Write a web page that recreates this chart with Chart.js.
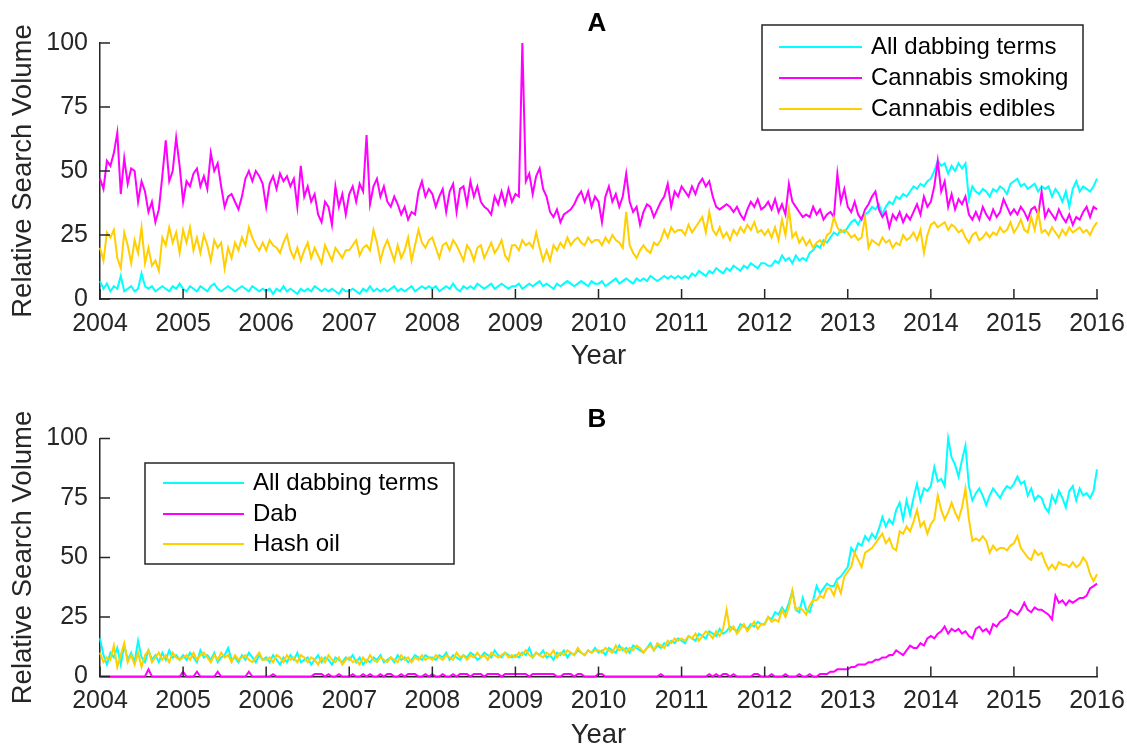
<!DOCTYPE html>
<html>
<head>
<meta charset="utf-8">
<script src="https://cdn.jsdelivr.net/npm/chart.js@4.4.1/dist/chart.umd.min.js"></script>
<style>
  html, body { margin: 0; padding: 0; background: #fff; }
  #wrap { position: relative; width: 1127px; height: 747px; overflow: hidden; }
  .panel { position: absolute; left: 0; width: 1127px; }
</style>
</head>
<body>
<div id="wrap">
  <div class="panel" style="top:0;height:374px"><canvas id="chartA" width="1127" height="374"></canvas></div>
  <div class="panel" style="top:374px;height:373px"><canvas id="chartB" width="1127" height="373"></canvas></div>
</div>
<script>
// half-monthly samples, 2004 to 2016 (24 per year + final point)
const startYear = 2004;
const perYear = 24;
const yearTicks = [2004, 2005, 2006, 2007, 2008, 2009, 2010, 2011, 2012, 2013, 2014, 2015, 2016];
const valueTicks = [0, 25, 50, 75, 100];

// Panel A
const dabbingA = [
    7, 4, 6, 3, 5, 4, 9, 3, 4, 5, 3, 4, 10, 5, 4, 5, 3, 4, 5, 4, 3, 5, 4, 6,
    4, 3, 5, 4, 3, 5, 4, 3, 5, 6, 4, 3, 4, 5, 4, 3, 4, 5, 4, 3, 5, 4, 3, 4,
    3, 4, 2, 4, 3, 5, 3, 4, 3, 2, 4, 3, 4, 3, 5, 4, 3, 4, 3, 4, 3, 2, 4, 3,
    3, 4, 3, 2, 4, 3, 5, 3, 4, 3, 4, 3, 4, 5, 3, 4, 3, 4, 5, 3, 4, 5, 4, 5,
    4, 5, 3, 4, 5, 4, 6, 4, 3, 5, 4, 5, 4, 6, 5, 4, 5, 6, 4, 5, 6, 5, 4, 5,
    5, 6, 4, 5, 6, 5, 6, 7, 5, 6, 5, 4, 6, 5, 6, 7, 6, 5, 6, 7, 6, 5, 7, 6,
    6, 7, 5, 6, 7, 8, 6, 7, 8, 7, 6, 8, 7, 8, 7, 9, 8, 7, 8, 9, 8, 9, 8, 9,
    8, 9, 8, 10, 9, 11, 10, 9, 11, 10, 12, 11, 10, 12, 11, 13, 12, 11, 13, 12, 14, 13, 12, 14,
    14, 13, 13, 15, 14, 17, 15, 16, 14, 17, 15, 16, 15, 18, 19, 21, 20, 23, 22, 24, 26, 25, 27, 26,
    28, 30, 31, 29, 32, 33, 34, 36, 35, 37, 33, 36, 38, 37, 40, 39, 41, 40, 42, 44, 43, 45, 44, 46,
    47, 50, 54, 52, 53, 49, 52, 50, 53, 51, 53, 39, 44, 42, 41, 43, 42, 40, 43, 42, 44, 43, 41, 45,
    46, 47, 44, 45, 43, 44, 45, 42, 44, 43, 44, 40, 43, 41, 38, 42, 36, 43, 46, 42, 44, 43, 42, 44,
    47
];
const smokingA = [
    47, 43, 54, 52, 57, 65, 41, 55, 45, 51, 50, 38, 46, 42, 34, 38, 30, 35, 48, 62, 46, 50, 63, 52,
    38, 46, 44, 49, 51, 44, 48, 43, 57, 50, 53, 44, 36, 40, 41, 38, 35, 40, 47, 50, 46, 50, 48, 45,
    36, 45, 48, 43, 49, 46, 48, 44, 47, 36, 52, 40, 44, 38, 41, 33, 30, 38, 36, 29, 44, 36, 41, 33,
    41, 44, 38, 45, 42, 64, 37, 44, 47, 40, 44, 38, 36, 40, 37, 33, 36, 31, 34, 33, 42, 46, 40, 43,
    41, 36, 40, 43, 34, 42, 45, 34, 43, 44, 37, 46, 40, 44, 38, 36, 35, 33, 40, 37, 42, 37, 43, 38,
    41, 40, 100, 46, 49, 41, 48, 51, 43, 40, 34, 32, 35, 30, 33, 34, 35, 37, 40, 42, 38, 42, 36, 40,
    38, 30, 40, 44, 38, 41, 36, 40, 49, 38, 34, 36, 29, 34, 37, 36, 32, 35, 38, 40, 45, 36, 42, 40,
    44, 42, 40, 44, 41, 45, 47, 44, 46, 40, 36, 35, 36, 37, 36, 34, 36, 33, 31, 35, 38, 36, 39, 35,
    36, 38, 35, 39, 34, 37, 33, 45, 38, 36, 34, 32, 33, 32, 36, 33, 35, 31, 33, 34, 32, 49, 38, 43,
    36, 34, 38, 33, 31, 35, 37, 40, 42, 35, 32, 34, 28, 33, 31, 34, 30, 33, 31, 34, 37, 33, 40, 36,
    38, 44, 54, 42, 46, 36, 41, 35, 39, 37, 40, 33, 31, 34, 31, 36, 33, 31, 35, 32, 34, 39, 36, 33,
    35, 33, 36, 34, 31, 35, 36, 33, 42, 32, 35, 33, 31, 35, 32, 30, 33, 29, 32, 31, 34, 36, 32, 36,
    35
];
const ediblesA = [
    20, 15, 26, 24, 27, 16, 12, 26, 21, 14, 23, 18, 28, 14, 20, 13, 15, 11, 24, 21, 28, 22, 26, 18,
    27, 22, 28, 19, 24, 18, 25, 21, 15, 23, 20, 22, 12, 20, 16, 22, 19, 24, 21, 28, 24, 21, 19, 22,
    19, 23, 21, 20, 18, 22, 25, 19, 16, 20, 15, 19, 22, 16, 20, 17, 14, 21, 18, 15, 20, 18, 16, 19,
    19, 21, 23, 17, 20, 21, 19, 27, 22, 15, 20, 23, 19, 15, 21, 16, 19, 24, 15, 21, 27, 22, 20, 23,
    24, 20, 16, 21, 22, 19, 23, 21, 18, 15, 21, 19, 15, 20, 21, 16, 19, 22, 18, 20, 23, 17, 15, 21,
    21, 19, 23, 21, 22, 20, 26, 20, 15, 19, 15, 21, 19, 22, 20, 24, 21, 23, 24, 22, 21, 24, 22, 23,
    23, 21, 24, 22, 25, 23, 22, 20, 34, 21, 18, 16, 19, 21, 19, 18, 22, 21, 23, 27, 24, 28, 26, 27,
    27, 25, 29, 26, 28, 30, 32, 26, 34, 27, 25, 28, 24, 26, 23, 27, 25, 28, 26, 29, 27, 30, 26, 27,
    25, 27, 24, 28, 23, 31, 25, 35, 24, 26, 22, 24, 21, 23, 20, 22, 23, 21, 25, 26, 32, 28, 26, 27,
    26, 24, 25, 23, 24, 32, 20, 23, 22, 21, 24, 22, 23, 20, 22, 21, 25, 23, 24, 26, 23, 27, 18, 25,
    29, 30, 28, 29, 30, 27, 29, 28, 26, 27, 24, 22, 25, 26, 23, 24, 26, 24, 26, 25, 28, 26, 27, 30,
    26, 28, 31, 27, 26, 32, 27, 34, 26, 27, 25, 28, 26, 24, 27, 25, 28, 26, 27, 28, 26, 27, 25, 28,
    30
];

// Panel B
const dabbingB = [
    16, 9, 5, 10, 8, 12, 5, 13, 7, 10, 6, 15, 8, 6, 11, 7, 9, 6, 10, 7, 11, 8, 9, 7,
    9, 7, 10, 8, 6, 11, 8, 9, 7, 10, 6, 8, 9, 12, 7, 8, 6, 9, 7, 10, 8, 6, 9, 7,
    8, 6, 9, 7, 5, 8, 6, 9, 7, 10, 6, 7, 8, 5, 7, 9, 6, 8, 7, 5, 8, 7, 6, 8,
    7, 9, 6, 8, 5, 7, 6, 8, 7, 9, 6, 7, 8, 6, 9, 7, 8, 6, 7, 9, 8, 7, 9, 8,
    8, 7, 9, 8, 10, 7, 9, 8, 7, 9, 8, 10, 9, 7, 8, 10, 9, 8, 11, 9, 8, 10, 9, 8,
    9, 8, 10, 9, 12, 8, 10, 9, 11, 8, 9, 7, 10, 9, 11, 8, 10, 9, 11, 10, 9, 11, 10, 12,
    10, 11, 9, 12, 11, 10, 13, 11, 12, 10, 13, 12, 11, 10, 12, 14, 11, 13, 12, 14, 13, 15, 14, 16,
    15, 14, 17, 16, 15, 18, 17, 16, 19, 18, 17, 20, 18, 19, 21, 20, 19, 22, 21, 20, 22, 21, 23, 22,
    22, 25, 24, 27, 26, 29, 27, 31, 36, 28, 27, 33, 28, 27, 32, 38, 35, 37, 39, 38, 38, 41, 42, 44,
    46, 54, 52, 56, 55, 59, 57, 60, 58, 62, 67, 63, 66, 64, 70, 73, 66, 74, 68, 75, 81, 74, 79, 78,
    80, 88, 82, 83, 80, 100, 92, 89, 84, 91, 97, 80, 74, 77, 79, 76, 72, 76, 79, 77, 75, 78, 80, 79,
    81, 84, 81, 82, 76, 79, 74, 76, 75, 71, 69, 76, 73, 78, 75, 71, 78, 80, 74, 79, 76, 77, 75, 78,
    87
];
const dabB = [
    0, 0, 0, 0, 0, 0, 0, 0, 0, 0, 0, 0, 0, 0, 3, 0, 0, 0, 0, 0, 0, 0, 0, 0,
    2, 0, 0, 0, 2, 0, 0, 0, 0, 0, 2, 0, 0, 0, 0, 0, 0, 0, 0, 2, 0, 0, 0, 0,
    0, 0, 1, 0, 0, 0, 0, 0, 0, 0, 0, 0, 0, 0, 1, 1, 1, 0, 1, 0, 0, 1, 0, 0,
    0, 1, 0, 0, 1, 0, 1, 0, 0, 1, 0, 1, 1, 0, 0, 1, 0, 1, 1, 1, 0, 0, 1, 0,
    1, 0, 0, 1, 0, 0, 1, 0, 1, 1, 1, 0, 1, 1, 1, 0, 1, 1, 1, 1, 0, 1, 1, 1,
    1, 1, 1, 1, 0, 1, 1, 1, 1, 1, 1, 1, 0, 0, 1, 1, 1, 0, 1, 1, 0, 0, 0, 0,
    1, 1, 0, 0, 0, 0, 0, 0, 0, 0, 0, 0, 0, 0, 0, 0, 0, 0, 1, 0, 0, 0, 0, 0,
    0, 0, 0, 0, 0, 0, 0, 0, 1, 0, 1, 0, 1, 1, 0, 1, 0, 0, 0, 0, 0, 1, 1, 0,
    0, 0, 1, 0, 0, 0, 1, 0, 0, 0, 1, 0, 0, 1, 0, 0, 1, 1, 1, 2, 2, 3, 3, 3,
    3, 4, 4, 5, 5, 5, 6, 6, 7, 7, 8, 8, 9, 9, 11, 10, 9, 11, 13, 12, 12, 14, 13, 16,
    17, 16, 18, 19, 21, 18, 20, 19, 20, 18, 19, 17, 16, 20, 21, 19, 20, 18, 22, 21, 23, 24, 25, 28,
    27, 26, 28, 31, 28, 27, 29, 28, 28, 27, 26, 24, 34, 31, 32, 30, 32, 31, 32, 33, 33, 34, 37, 38,
    39
];
const hashOilB = [
    10, 6, 8, 7, 13, 4, 9, 14, 6, 9, 5, 10, 4, 9, 11, 6, 8, 10, 7, 9, 6, 10, 8, 7,
    8, 9, 7, 10, 7, 9, 10, 8, 6, 9, 7, 10, 8, 9, 6, 9, 7, 8, 9, 7, 6, 8, 10, 7,
    7, 8, 6, 9, 8, 6, 9, 7, 8, 6, 9, 8, 6, 8, 7, 5, 8, 6, 9, 7, 6, 8, 5, 7,
    8, 6, 7, 5, 8, 6, 9, 7, 6, 8, 7, 6, 8, 7, 6, 9, 7, 8, 6, 8, 7, 9, 7, 8,
    7, 9, 8, 7, 9, 8, 7, 10, 8, 9, 7, 9, 8, 10, 8, 9, 7, 10, 9, 8, 9, 10, 8, 9,
    8, 10, 9, 11, 9, 8, 10, 9, 8, 10, 9, 11, 8, 10, 9, 11, 10, 9, 12, 10, 9, 11, 10, 11,
    11, 10, 12, 11, 10, 13, 11, 12, 10, 12, 11, 13, 12, 10, 12, 13, 11, 14, 13, 12, 15, 14, 16, 15,
    16, 15, 17, 16, 18, 15, 17, 19, 18, 16, 19, 17, 20, 28, 19, 21, 18, 20, 22, 19, 21, 23, 20, 22,
    22, 25, 23, 24, 23, 28, 25, 29, 36, 28, 29, 28, 26, 30, 32, 32, 34, 33, 37, 37, 34, 39, 35, 42,
    44, 46, 52, 49, 46, 52, 53, 54, 56, 58, 60, 56, 58, 54, 53, 61, 60, 63, 61, 65, 70, 63, 65, 60,
    64, 66, 76, 70, 66, 69, 73, 69, 66, 71, 79, 66, 57, 58, 57, 59, 57, 52, 55, 53, 54, 54, 53, 55,
    56, 59, 54, 52, 50, 49, 53, 51, 52, 48, 45, 47, 45, 48, 47, 47, 46, 48, 46, 47, 50, 48, 43, 40,
    43
];

const CYAN = '#00FFFF';
const MAGENTA = '#FF00FF';
const YELLOW = '#FFCF00';
const AXIS = '#262626';
const FONT = "'Liberation Sans', Arial, Helvetica, sans-serif";

const times = [];
for (let i = 0; i < dabbingA.length; i++) {
    times.push(startYear + i / perYear);
}

const decor = {
    id: 'decor',
    afterDraw(chart, args, opts) {
        const { ctx, chartArea: a, scales: { x, y } } = chart;
        ctx.save();

        // MATLAB-style inward ticks
        ctx.strokeStyle = AXIS;
        ctx.lineWidth = 1.5;
        ctx.beginPath();
        valueTicks.forEach(v => {
            const py = y.getPixelForValue(v);
            ctx.moveTo(a.left, py);
            ctx.lineTo(a.left + 10, py);
        });
        yearTicks.forEach(v => {
            const px = x.getPixelForValue(v);
            ctx.moveTo(px, a.bottom);
            ctx.lineTo(px, a.bottom - 10);
        });
        ctx.stroke();

        ctx.textAlign = 'center';
        ctx.textBaseline = 'middle';

        ctx.fillStyle = '#000';
        ctx.font = 'bold 26px ' + FONT;
        ctx.fillText(opts.title, 597, opts.titleY);

        ctx.fillStyle = AXIS;
        ctx.font = '27.5px ' + FONT;
        ctx.fillText('Year', (a.left + a.right) / 2, opts.yearY);

        ctx.save();
        ctx.translate(23, (a.top + a.bottom) / 2);
        ctx.rotate(-Math.PI / 2);
        ctx.fillText('Relative Search Volume', 0, 0);
        ctx.restore();

        // legend box
        const L = opts.legend;
        ctx.fillStyle = '#fff';
        ctx.fillRect(L.x, L.y, L.w, L.h);
        ctx.strokeStyle = AXIS;
        ctx.lineWidth = 1.5;
        ctx.strokeRect(L.x, L.y, L.w, L.h);
        ctx.font = '24px ' + FONT;
        ctx.textAlign = 'left';
        chart.data.datasets.forEach((ds, i) => {
            const ry = L.rows[i];
            ctx.strokeStyle = ds.borderColor;
            ctx.lineWidth = 2;
            ctx.beginPath();
            ctx.moveTo(L.x0, ry);
            ctx.lineTo(L.x1, ry);
            ctx.stroke();
            ctx.fillStyle = '#000';
            ctx.fillText(ds.label, L.tx, ry);
        });

        ctx.restore();
    }
};

function makeChart(id, series, top, xHeight, decorOpts) {
    const colors = [CYAN, MAGENTA, YELLOW];
    return new Chart(document.getElementById(id), {
        type: 'line',
        data: {
            labels: times,
            datasets: series.map((s, i) => ({
                label: s.label,
                data: s.data,
                borderColor: colors[i],
                borderWidth: 2,
                pointRadius: 0,
                tension: 0,
                fill: false,
                clip: false,
                order: 3 - i
            }))
        },
        options: {
            responsive: false,
            animation: false,
            events: [],
            layout: { padding: { left: 0, right: 30, top: top, bottom: 0 } },
            plugins: {
                legend: { display: false },
                tooltip: { enabled: false },
                decor: decorOpts
            },
            scales: {
                x: {
                    type: 'linear',
                    min: 2004,
                    max: 2016,
                    grid: { display: false, drawTicks: false },
                    border: { display: true, color: AXIS, width: 1.5 },
                    ticks: {
                        stepSize: 1,
                        autoSkip: false,
                        maxRotation: 0,
                        padding: 10,
                        color: AXIS,
                        font: { family: FONT, size: 25 },
                        callback: v => String(v)
                    },
                    afterFit: scale => {
                        scale.height = xHeight;
                        scale.paddingLeft = 0;
                        scale.paddingRight = 0;
                    }
                },
                y: {
                    min: 0,
                    max: 100,
                    grid: { display: false, drawTicks: false },
                    border: { display: true, color: AXIS, width: 1.5 },
                    ticks: {
                        stepSize: 25,
                        padding: 12,
                        color: AXIS,
                        font: { family: FONT, size: 25 }
                    },
                    afterFit: scale => {
                        scale.width = 100;
                        scale.paddingTop = 0;
                        scale.paddingBottom = 0;
                    }
                }
            }
        },
        plugins: [decor]
    });
}

makeChart('chartA', [
    { label: 'All dabbing terms', data: dabbingA },
    { label: 'Cannabis smoking', data: smokingA },
    { label: 'Cannabis edibles', data: ediblesA }
], 43, 75, {
    title: 'A',
    titleY: 24,
    yearY: 356,
    legend: { x: 762, y: 25, w: 321, h: 105, rows: [47, 78, 109], x0: 779, x1: 862, tx: 871 }
});

makeChart('chartB', [
    { label: 'All dabbing terms', data: dabbingB },
    { label: 'Dab', data: dabB },
    { label: 'Hash oil', data: hashOilB }
], 64.5, 70.5, {
    title: 'B',
    titleY: 46,
    yearY: 361,
    legend: { x: 145, y: 89, w: 309, h: 101, rows: [109, 140, 170], x0: 163, x1: 244, tx: 253 }
});
</script>
</body>
</html>
